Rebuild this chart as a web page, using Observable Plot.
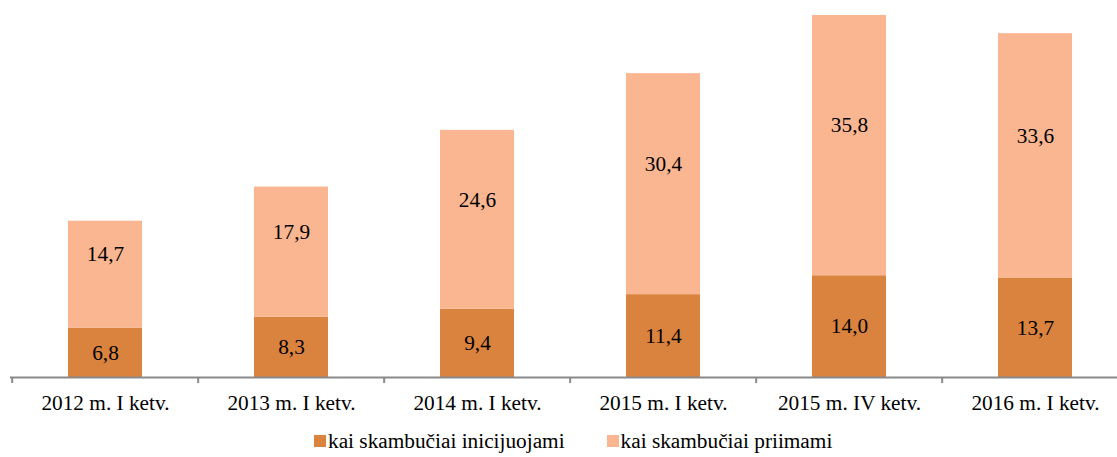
<!DOCTYPE html>
<html>
<head>
<meta charset="utf-8">
<script src="https://cdn.jsdelivr.net/npm/d3@7"></script>
<script src="https://cdn.jsdelivr.net/npm/@observablehq/plot@0.6"></script>
<style>
  html, body { margin: 0; padding: 0; background: #fff; overflow: hidden; }
  #chart svg { display: block; }
  .legend { display: flex; justify-content: flex-start; font-family: "Liberation Serif", "Times New Roman", serif; font-size: 21.3px; color: #000; margin-left: 314px; margin-top: 9px; line-height: 24px; }
  .legend span.item { display: inline-flex; align-items: center; margin-right: 42px; }
  .legend span.sw { display: inline-block; width: 12px; height: 12px; margin-right: 2px; }
</style>
</head>
<body>
<div id="chart"></div>
<div class="legend" id="legend"></div>
<script>
const categories = ["2012 m. I ketv.", "2013 m. I ketv.", "2014 m. I ketv.", "2015 m. I ketv.", "2015 m. IV ketv.", "2016 m. I ketv."];
const seriesNames = ["kai skambučiai inicijuojami", "kai skambučiai priimami"];
const initiated = [6.8, 8.3, 9.4, 11.4, 14.0, 13.7];
const received = [14.7, 17.9, 24.6, 30.4, 35.8, 33.6];
const colors = ["#DA833F", "#F9B691"];

const fmt = v => v.toFixed(1).replace(".", ",");

const rows = [];
categories.forEach((c, i) => {
  const a = initiated[i], b = received[i];
  rows.push({cat: c, series: seriesNames[0], y1: 0, y2: a, mid: a / 2, label: fmt(a), top: false});
  rows.push({cat: c, series: seriesNames[1], y1: a, y2: a + b, mid: a + b / 2, label: fmt(b), top: true});
});
const yMax = d3.max(categories, (c, i) => initiated[i] + received[i]);

const W = 1117, H = 420;
const xRange = [10, 1130];
const step = (xRange[1] - xRange[0]) / categories.length;
const font = "'Liberation Serif', 'Times New Roman', serif";
const fs = 21.3;

const plot = Plot.plot({
  width: W,
  height: H,
  marginTop: 15,
  marginBottom: 43,
  marginLeft: 10,
  marginRight: 0,
  style: {fontFamily: font, fontSize: fs + "px", color: "#000", background: "#fff", overflow: "visible"},
  x: {domain: categories, range: xRange, paddingInner: 0.6, paddingOuter: 0.3, label: null},
  y: {domain: [0, yMax], axis: null},
  color: {domain: seriesNames, range: colors},
  marks: [
    Plot.rectY(rows, {x: "cat", y1: "y1", y2: "y2", fill: "series"}),
    Plot.text(rows.filter(d => !d.top), {x: "cat", y: "mid", text: "label", fill: "#000", fontSize: fs, fontFamily: font}),
    Plot.text(rows.filter(d => d.top), {x: "cat", y: "mid", text: "label", fill: "#000", fontSize: fs, fontFamily: font, dy: -20}),
    Plot.ruleY([0], {stroke: "#8a8a8a", strokeWidth: 2}),
    Plot.axisX({tickSize: 6, dx: -step / 2, text: null, stroke: "#8a8a8a", strokeWidth: 2, label: null}),
    Plot.axisX({tickSize: 0, tickPadding: 17, fontSize: fs, fontFamily: font, label: null, fill: "#000"})
  ]
});
document.getElementById("chart").appendChild(plot);

const legend = document.getElementById("legend");
seriesNames.forEach((s, i) => {
  const item = document.createElement("span");
  item.className = "item";
  const sw = document.createElement("span");
  sw.className = "sw";
  sw.style.background = colors[i];
  item.appendChild(sw);
  item.appendChild(document.createTextNode(s));
  legend.appendChild(item);
});
</script>
</body>
</html>
